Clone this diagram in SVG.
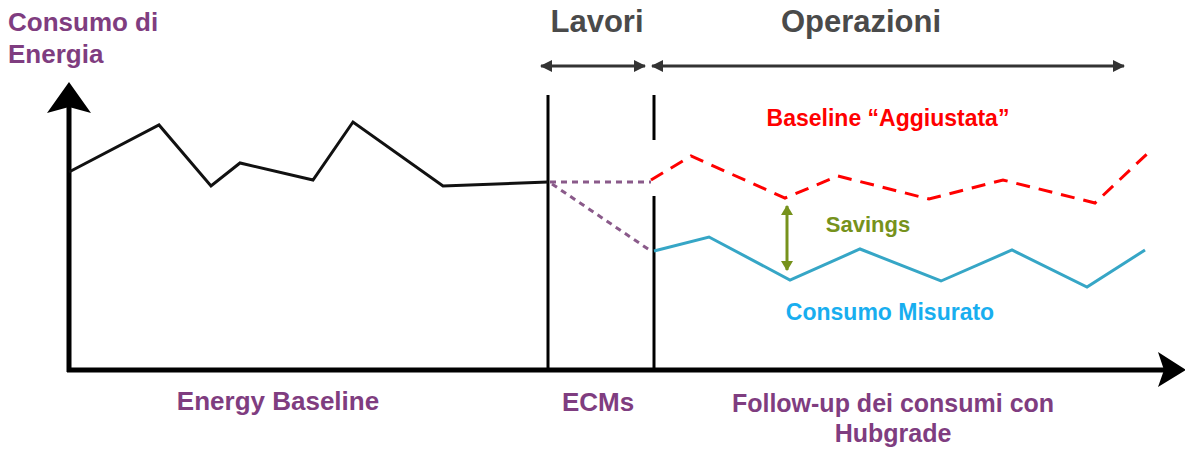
<svg xmlns="http://www.w3.org/2000/svg" width="1185" height="449" viewBox="0 0 1185 449">
<style>
text{font-family:"Liberation Sans",Arial,sans-serif;font-weight:bold}
.p{fill:#7f3d80}
.t{fill:#4a4a4a;font-size:31px}
.ax{stroke:#000;stroke-width:5;fill:none}
.vl{stroke:#000;stroke-width:3;fill:none}
.dbl{stroke:#333;stroke-width:3;fill:none}
</style>
<defs>
<marker id="ah" viewBox="0 0 12 12" refX="11" refY="6" markerWidth="12" markerHeight="12" markerUnits="userSpaceOnUse" orient="auto-start-reverse">
<path d="M0,0 L12,6 L0,12 Z" fill="#333"/>
</marker>
<marker id="ag" viewBox="0 0 10 12" refX="9" refY="6" markerWidth="10" markerHeight="12" markerUnits="userSpaceOnUse" orient="auto-start-reverse">
<path d="M0,0 L10,6 L0,12 Z" fill="#76921c"/>
</marker>
</defs>
<g id="axes">
<line class="ax" x1="69" y1="372" x2="69" y2="104"/>
<path d="M69,82 L91,113 L69,107 L47,113 Z" fill="#000"/>
<line class="ax" x1="67" y1="370" x2="1165" y2="370"/>
<path d="M1186,370 L1158,352 L1164,370 L1158,387 Z" fill="#000"/>
</g>
<g id="connectors">
<line class="vl" x1="548" y1="95" x2="548" y2="370"/>
<line class="vl" x1="654" y1="95" x2="654" y2="140"/>
<line class="vl" x1="654" y1="196" x2="654" y2="370"/>
<line class="dbl" x1="541" y1="66" x2="645" y2="66" marker-start="url(#ah)" marker-end="url(#ah)"/>
<line class="dbl" x1="652" y1="66" x2="1124" y2="66" marker-start="url(#ah)" marker-end="url(#ah)"/>
<polyline points="69,172 159,125 211,186 240,163 313,180 353,122 443,186 548,182" fill="none" stroke="#111" stroke-width="3" stroke-linejoin="miter"/>
<line x1="550" y1="182" x2="651" y2="182" stroke="#8a5a8a" stroke-width="3" stroke-dasharray="6,5"/>
<line x1="552" y1="184" x2="651" y2="251" stroke="#8a5a8a" stroke-width="3" stroke-dasharray="6,5"/>
<polyline points="651,180 691,156 785,198 838,176 929,199 1003,180 1095,203 1148,153" fill="none" stroke="#ff0000" stroke-width="3" stroke-dasharray="14,9"/>
<polyline points="654,251 709,237 790,280 860,249 941,281 1012,250 1087,287 1145,250" fill="none" stroke="#36a6c6" stroke-width="3" stroke-linejoin="miter"/>
<line x1="787" y1="206" x2="787" y2="270" stroke="#76921c" stroke-width="3" marker-start="url(#ag)" marker-end="url(#ag)"/>
</g>
<g id="label-y"><text class="p" x="8" y="31" font-size="26">Consumo di</text><text class="p" x="8" y="63" font-size="26">Energia</text></g>
<g id="label-lavori"><text class="t" x="597" y="32" text-anchor="middle">Lavori</text></g>
<g id="label-operazioni"><text class="t" x="861" y="32" text-anchor="middle">Operazioni</text></g>
<g id="label-baseline-agg"><text x="888" y="126" text-anchor="middle" font-size="23" fill="#ff0000">Baseline “Aggiustata”</text></g>
<g id="label-savings"><text x="868" y="232" text-anchor="middle" font-size="22" fill="#76921c">Savings</text></g>
<g id="label-misurato"><text x="890" y="320" text-anchor="middle" font-size="23" fill="#18aeef">Consumo Misurato</text></g>
<g id="label-energy-baseline"><text class="p" x="278" y="410" text-anchor="middle" font-size="26">Energy Baseline</text></g>
<g id="label-ecms"><text class="p" x="598" y="411" text-anchor="middle" font-size="26">ECMs</text></g>
<g id="label-followup"><text class="p" x="893" y="412" text-anchor="middle" font-size="25">Follow-up dei consumi con</text><text class="p" x="893" y="442" text-anchor="middle" font-size="25">Hubgrade</text></g>
</svg>
